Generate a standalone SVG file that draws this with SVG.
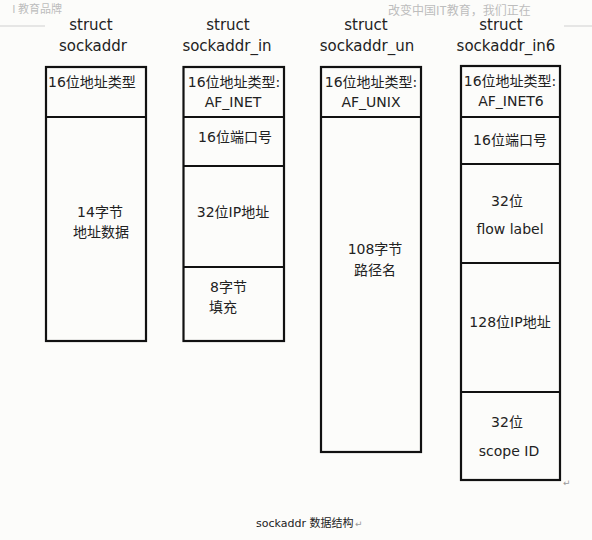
<svg xmlns="http://www.w3.org/2000/svg" width="592" height="540" viewBox="0 0 592 540">
<style>
.bg{fill:#fcfcfa}
.box{fill:none;stroke:#111;stroke-width:2.2}
.div{stroke:#111;stroke-width:2.2}
.t{font-family:"DejaVu Sans","Noto Sans CJK SC",sans-serif;fill:#222}
.title{font-size:15px;text-anchor:middle}
.cell{font-size:14px;text-anchor:middle}
.wm{font-family:"Noto Sans CJK SC","DejaVu Sans",sans-serif;fill:#bdbdbd}
.mark{font-family:"DejaVu Sans",sans-serif;font-size:9px;fill:#999}
</style>
<rect class="bg" x="0" y="0" width="592" height="540"/>
<g id="page-header">
<line x1="0" y1="26" x2="45" y2="26" stroke="#d0d0d0" stroke-width="1"/>
<line x1="564" y1="26" x2="592" y2="26" stroke="#d0d0d0" stroke-width="1"/>
<text class="wm" x="62" y="13" font-size="11" text-anchor="end">I 教育品牌</text>
<text class="wm" x="388" y="14.5" font-size="12">改变中国IT教育，我们正在</text>
</g>
<g id="sockaddr">
<text class="t title" x="91" y="30">struct</text>
<text class="t title" x="93" y="51">sockaddr</text>
<rect class="box" x="46" y="67" width="100" height="274"/>
<line class="div" x1="46" y1="117" x2="146" y2="117"/>
<text class="t" x="48" y="87" font-size="14">16位地址类型</text>
<text class="t cell" x="100" y="217">14字节</text>
<text class="t cell" x="101" y="237">地址数据</text>
</g>
<g id="sockaddr_in">
<text class="t title" x="228" y="30">struct</text>
<text class="t title" x="227" y="51">sockaddr_in</text>
<rect class="box" x="183.5" y="67" width="100.5" height="274"/>
<line class="div" x1="183.5" y1="117" x2="284" y2="117"/>
<line class="div" x1="183.5" y1="166" x2="284" y2="166"/>
<line class="div" x1="183.5" y1="267" x2="284" y2="267"/>
<text class="t cell" x="234" y="87">16位地址类型:</text>
<text class="t cell" x="233" y="107">AF_INET</text>
<text class="t cell" x="235" y="142">16位端口号</text>
<text class="t cell" x="233" y="217">32位IP地址</text>
<text class="t" x="210" y="292" font-size="14">8字节</text>
<text class="t" x="209" y="312" font-size="14">填充</text>
</g>
<g id="sockaddr_un">
<text class="t title" x="366" y="30">struct</text>
<text class="t title" x="367" y="51">sockaddr_un</text>
<rect class="box" x="321" y="67" width="100" height="385"/>
<line class="div" x1="321" y1="117" x2="421" y2="117"/>
<text class="t cell" x="371" y="87">16位地址类型:</text>
<text class="t cell" x="371" y="107">AF_UNIX</text>
<text class="t cell" x="375" y="254">108字节</text>
<text class="t cell" x="375" y="275">路径名</text>
</g>
<g id="sockaddr_in6">
<text class="t title" x="501" y="30">struct</text>
<text class="t title" x="506" y="51">sockaddr_in6</text>
<rect class="box" x="461" y="66" width="99" height="414"/>
<line class="div" x1="461" y1="117" x2="560" y2="117"/>
<line class="div" x1="461" y1="164" x2="560" y2="164"/>
<line class="div" x1="461" y1="263" x2="560" y2="263"/>
<line class="div" x1="461" y1="392" x2="560" y2="392"/>
<text class="t cell" x="510" y="86">16位地址类型:</text>
<text class="t cell" x="511" y="106">AF_INET6</text>
<text class="t cell" x="510" y="145">16位端口号</text>
<text class="t cell" x="507" y="206">32位</text>
<text class="t cell" x="510" y="234">flow label</text>
<text class="t cell" x="510" y="327">128位IP地址</text>
<text class="t cell" x="507" y="427">32位</text>
<text class="t cell" x="509" y="456">scope ID</text>
</g>
<g id="connectors"></g>
<g id="caption">
<text class="mark" x="563" y="486">↵</text>
<text class="t" x="256" y="527" font-size="11">sockaddr 数据结构</text>
<text class="mark" x="355" y="527">↵</text>
</g>
</svg>
